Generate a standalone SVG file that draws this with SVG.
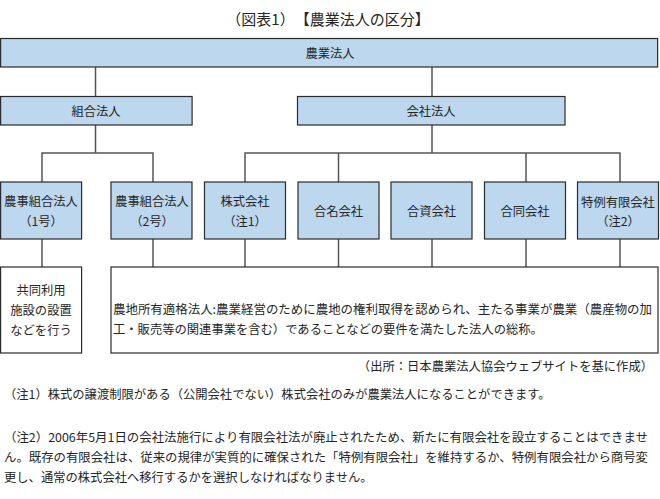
<svg xmlns="http://www.w3.org/2000/svg" width="660" height="499" viewBox="0 0 660 499">
<style>
text{font-family:"Noto Sans CJK JP","Noto Sans",sans-serif;fill:#262626;font-size:12.3px;dominant-baseline:central;text-spacing-trim:space-all}
.c{text-anchor:middle}
.box{fill:#bdd7ee;stroke:#2b2b2b;stroke-width:1.2}
.wbox{fill:#ffffff;stroke:#2b2b2b;stroke-width:1.2}
.conn{fill:none;stroke:#555;stroke-width:1.5}
</style>
<rect width="660" height="499" fill="#ffffff"/>
<text class="c" x="328" y="18" style="font-size:15px">（図表1）【農業法人の区分】</text>
<g id="connectors">
<path class="conn" d="M95.5 67V97M432 67V97"/>
<path class="conn" d="M95.5 125V153M42 182V153H153V182"/>
<path class="conn" d="M432 125V153M245 182V153H620V182M338.5 153V182M526 153V182"/>
<path class="conn" d="M42 239V267M153 239V267M245 239V267M338.5 239V267M432 239V267M526 239V267M620 239V267"/>
</g>
<g id="n-nogyo"><rect class="box" x="0.6" y="38.5" width="657" height="28.5"/><text class="c" x="330" y="53">農業法人</text></g>
<g id="n-kumiai"><rect class="box" x="0.6" y="96.5" width="191.5" height="28.5"/><text class="c" x="96" y="111">組合法人</text></g>
<g id="n-kaisha"><rect class="box" x="297.5" y="96.5" width="267.5" height="28.5"/><text class="c" x="431" y="111">会社法人</text></g>
<g id="n-noji1"><rect class="box" x="0.6" y="182" width="81" height="57"/><text class="c" x="41" y="201">農事組合法人</text><text class="c" x="41" y="221">（1号）</text></g>
<g id="n-noji2"><rect class="box" x="111" y="182" width="81" height="57"/><text class="c" x="152" y="201">農事組合法人</text><text class="c" x="152" y="221">（2号）</text></g>
<g id="n-kabu"><rect class="box" x="204.5" y="182" width="81" height="57"/><text class="c" x="245" y="201">株式会社</text><text class="c" x="245" y="221">（注1）</text></g>
<g id="n-gomei"><rect class="box" x="298" y="182" width="81" height="57"/><text class="c" x="338.5" y="211">合名会社</text></g>
<g id="n-goshi"><rect class="box" x="391" y="182" width="81" height="57"/><text class="c" x="431.5" y="211">合資会社</text></g>
<g id="n-godo"><rect class="box" x="484.5" y="182" width="81" height="57"/><text class="c" x="525" y="211">合同会社</text></g>
<g id="n-tokurei"><rect class="box" x="577.5" y="182" width="81" height="57"/><text class="c" x="618" y="202">特例有限会社</text><text class="c" x="618" y="221">（注2）</text></g>
<g id="n-kyodo"><rect class="wbox" x="0.6" y="267" width="81" height="86"/><text class="c" x="41" y="290">共同利用</text><text class="c" x="41" y="310">施設の設置</text><text class="c" x="41" y="330">などを行う</text></g>
<g id="n-nochi"><rect class="wbox" x="111" y="267" width="547" height="86"/><text x="113" y="309" textLength="539" lengthAdjust="spacingAndGlyphs">農地所有適格法人:農業経営のために農地の権利取得を認められ、主たる事業が農業（農産物の加</text><text x="113" y="329">工・販売等の関連事業を含む）であることなどの要件を満たした法人の総称。</text></g>
<text x="653" y="366" style="text-anchor:end">（出所：日本農業法人協会ウェブサイトを基に作成）</text>
<text x="4" y="394">（注1）株式の譲渡制限がある（公開会社でない）株式会社のみが農業法人になることができます。</text>
<text x="4" y="437" textLength="644" lengthAdjust="spacingAndGlyphs">（注2）2006年5月1日の会社法施行により有限会社法が廃止されたため、新たに有限会社を設立することはできませ</text>
<text x="4" y="457" textLength="644" lengthAdjust="spacingAndGlyphs">ん。既存の有限会社は、従来の規律が実質的に確保された「特例有限会社」を維持するか、特例有限会社から商号変</text>
<text x="4" y="477">更し、通常の株式会社へ移行するかを選択しなければなりません。</text>
</svg>
